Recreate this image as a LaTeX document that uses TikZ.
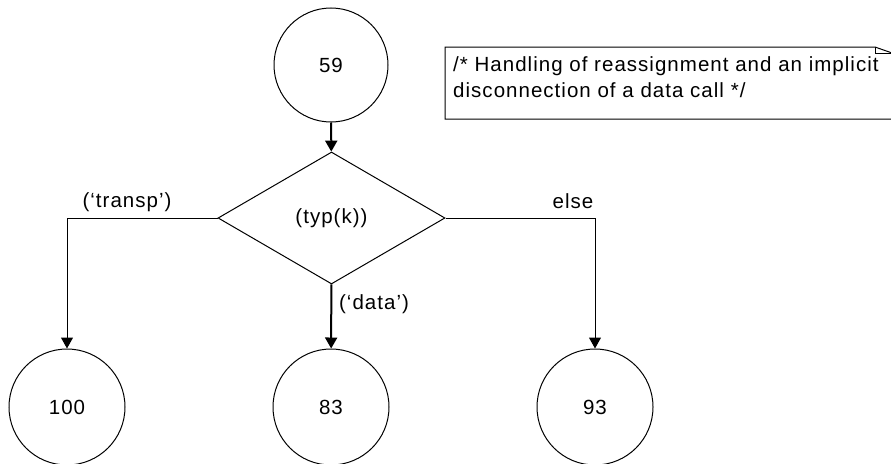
\documentclass[tikz,border=0pt]{standalone}
\usepackage{fontspec}
\newfontfamily\diafont{Liberation Sans}[LetterSpace=5]
\usetikzlibrary{shapes.geometric,arrows.meta}
\begin{document}
\begin{tikzpicture}[
x=1pt, y=-1pt,
>={Triangle[length=11pt,width=12pt]},
every node/.style={font=\diafont\fontsize{20.5}{26}\selectfont, inner sep=0pt},
state/.style={circle, draw, line width=1pt, minimum size=114pt},
decision/.style={diamond, draw, line width=1pt, minimum width=227pt, minimum height=132pt},
lbl/.style={},
flow/.style={->, line width=1pt},
mainflow/.style={->, line width=2pt}
]
\useasboundingbox (0,0) rectangle (891,463);
\node[state] (n59) at (331,65) {59};
\node[decision] (typ) at (331.5,218) {(typ(k))};
\node[state, minimum size=116pt] (n100) at (67,407) {100};
\node[state, minimum size=116pt] (n83) at (331,407) {83};
\node[state, minimum size=116pt] (n93) at (595,407) {93};
\draw[mainflow] (n59) -- (typ);
\draw[flow] (typ.west) -| (n100);
\draw[mainflow] (typ) -- (n83);
\draw[flow] (typ.east) -| (n93);
\node[lbl] (ltransp) at (127,202) {(‘transp’)};
\node[lbl] (ldata) at (374,304) {(‘data’)};
\node[lbl] (lelse) at (573,201) {else};
\draw[line width=1pt] (892,53) -- (892,119) -- (445,119) -- (445,47) -- (875,47) -- (892,53);
\draw[line width=1pt] (875,47) -- (875,53) -- (892,53);
\node[anchor=north west, align=left] (note) at (453,56)
  {/* Handling of reassignment and an implicit\\disconnection of a data call */};
\end{tikzpicture}
\end{document}
